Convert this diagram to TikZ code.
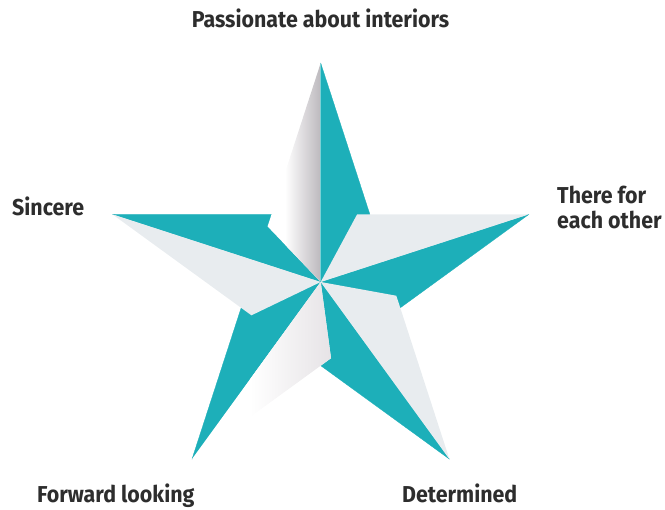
\documentclass[tikz,border=0pt]{standalone}
\usepackage{fontspec}
\setmainfont{Fira Sans}
\usepackage{graphicx}
\definecolor{teal1}{RGB}{29,175,185}
\definecolor{lightgray1}{RGB}{232,236,239}
\definecolor{foldgray}{RGB}{188,184,189}
\definecolor{foldlight}{RGB}{230,227,230}
\definecolor{txt}{RGB}{45,45,45}
\newcommand\starlbl[1]{\scalebox{0.93}[1]{#1}}
\begin{document}
\begin{tikzpicture}[x=1pt,y=-1pt,
  lbl/.style={inner sep=0pt, text=txt, font=\fontsize{23}{28}\selectfont\bfseries},
  tealpiece/.style={fill=teal1, draw=teal1, line width=0.3pt, line join=round},
  graypiece/.style={fill=lightgray1}]
\useasboundingbox (0,0) rectangle (665,510);
% centre
\coordinate (C) at (320.7,282);
% tips
\coordinate (T1) at (320.7,63);
\coordinate (T2) at (528.98,214.32);
\coordinate (T3) at (449.43,459.17);
\coordinate (T4) at (191.97,459.17);
\coordinate (T5) at (112.42,214.32);
% inner vertices
\coordinate (I1) at (369.87,214.33);
\coordinate (I2) at (400.26,307.85);
\coordinate (I3) at (320.7,365.65);
\coordinate (I4) at (241.14,307.85);
\coordinate (I5) at (271.53,214.33);
% fold points
\coordinate (Q1) at (267.60,226.44);
\coordinate (Q2) at (357.14,214.33);
\coordinate (Q3) at (396.33,295.74);
\coordinate (Q4) at (331.0,358.17);
\coordinate (Q5) at (251.44,315.33);
% teal halves
\filldraw[tealpiece] (T1) -- (C) -- (I1) -- cycle;
\filldraw[tealpiece] (T2) -- (C) -- (I2) -- cycle;
\filldraw[tealpiece] (T3) -- (C) -- (I3) -- cycle;
\filldraw[tealpiece] (T4) -- (C) -- (I4) -- cycle;
\filldraw[tealpiece] (T5) -- (C) -- (I5) -- cycle;
% light halves
\fill[graypiece] (T2) -- (C) -- (Q2) -- cycle;
\fill[graypiece] (T3) -- (C) -- (Q3) -- cycle;
\fill[graypiece] (T5) -- (C) -- (Q5) -- cycle;
% top fold with gradient
\begin{scope}
  \clip (T1) -- (C) -- (Q1) -- cycle;
  \fill[white] (260,60) rectangle (321,290);
  \shade[left color=white, right color=foldgray] (285,60) rectangle (320.9,290);
\end{scope}
% bottom fold with gradient
\begin{scope}
  \clip (T4) -- (C) -- (Q4) -- cycle;
  \fill[white] (185,275) rectangle (335,465);
  \shade[left color=white, right color=foldlight] (250,275) rectangle (332,465);
\end{scope}
% labels
\node[lbl, anchor=base] (top) at (320.5,27.5) {\starlbl{Passionate about interiors}};
\node[lbl, anchor=base west] (sin) at (12,216) {\starlbl{Sincere}};
\node[lbl, anchor=base west] (th1) at (557,203.5) {\starlbl{There for}};
\node[lbl, anchor=base west] (th2) at (557,228.5) {\starlbl{each other}};
\node[lbl, anchor=base west] (fwd) at (37,502.5) {\starlbl{Forward looking}};
\node[lbl, anchor=base west] (det) at (402,502.5) {\starlbl{Determined}};
\end{tikzpicture}
\end{document}
